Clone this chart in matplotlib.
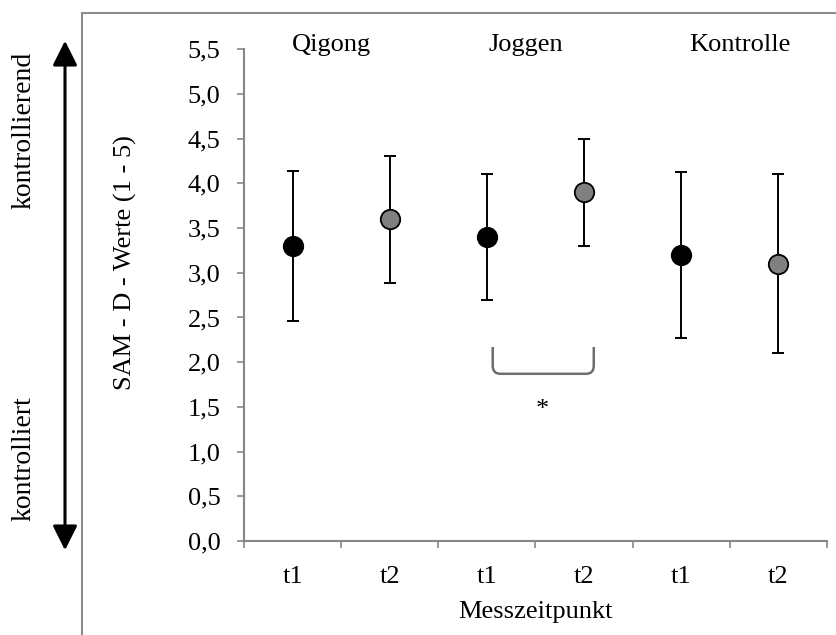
import matplotlib
matplotlib.use("Agg")
import matplotlib.pyplot as plt
from matplotlib.patches import Rectangle, PathPatch, FancyArrowPatch
from matplotlib.path import Path

groups = ["Qigong", "Joggen", "Kontrolle"]
time_labels = ["t1", "t2", "t1", "t2", "t1", "t2"]
means = [3.3, 3.6, 3.4, 3.9, 3.2, 3.1]
sds = [0.84, 0.71, 0.70, 0.60, 0.93, 1.0]
fills = ["black", "#808080", "black", "#808080", "black", "#808080"]
yticks = [0.0, 0.5, 1.0, 1.5, 2.0, 2.5, 3.0, 3.5, 4.0, 4.5, 5.0, 5.5]

plt.rcParams["font.family"] = ["Liberation Serif", "DejaVu Serif"]
FS = 19
AXIS_GREY = "#868686"

fig = plt.figure(figsize=(8.37, 6.35), dpi=100)
ax = fig.add_axes([0.2915, 0.148, 0.6965, 0.7745])

# outer frame, cut off at right and bottom
fig.patches.append(Rectangle((82 / 837, -0.05), 1.0, 1 - 13 / 635 + 0.05,
                             transform=fig.transFigure, fill=False,
                             edgecolor="#8c8c8c", lw=1.5))

for i, (m, s, c) in enumerate(zip(means, sds, fills)):
    ax.errorbar(i, m, yerr=s, fmt="none", ecolor="black", elinewidth=1.4,
                capsize=4.5, capthick=1.4, zorder=2)
    ax.plot(i, m, "o", ms=14, mfc=c, mec="black", mew=1.3, zorder=3)

ax.set_xlim(-0.5, 5.5)
ax.set_ylim(0, 5.5)
ax.set_yticks(yticks, [f"{v:.1f}".replace(".", ",") for v in yticks], fontsize=FS)
ax.set_xticks([-0.5, 0.5, 1.5, 2.5, 3.5, 4.5, 5.5], [])
ax.set_xticks(range(6), time_labels, minor=True, fontsize=FS)
ax.tick_params(axis="x", which="major", length=5, width=1.2, color=AXIS_GREY, direction="out")
ax.tick_params(axis="x", which="minor", length=0, pad=18)
ax.tick_params(axis="y", length=5, width=1.2, color=AXIS_GREY, pad=12)
for side in ("top", "right"):
    ax.spines[side].set_visible(False)
for side in ("left", "bottom"):
    ax.spines[side].set_color(AXIS_GREY)
    ax.spines[side].set_linewidth(1.5)

ax.set_ylabel("SAM - D - Werte (1 - 5)", fontsize=FS, ha="center", va="center")
ax.yaxis.set_label_coords(-0.204, 0.567)
ax.set_xlabel("Messzeitpunkt", fontsize=FS, va="center")
ax.xaxis.set_label_coords(0.5, -0.144)

# group names over the pairs
for x, g in zip([0.4, 2.4, 4.6], groups):
    ax.text(x, 5.55, g, ha="center", va="center", fontsize=FS)

# significance bracket between Joggen t1 and t2
x0, x1, ytop, ybot, rx, ry = 2.06, 3.1, 2.17, 1.87, 0.08, 0.09
verts = [(x0, ytop), (x0, ybot + ry), (x0, ybot), (x0 + rx, ybot),
         (x1 - rx, ybot), (x1, ybot), (x1, ybot + ry), (x1, ytop)]
codes = [Path.MOVETO, Path.LINETO, Path.CURVE3, Path.CURVE3,
         Path.LINETO, Path.CURVE3, Path.CURVE3, Path.LINETO]
ax.add_patch(PathPatch(Path(verts, codes), fill=False, edgecolor="#6e6e6e", lw=1.8))
ax.text(2.57, 1.47, "*", ha="center", va="center", fontsize=FS)

# direction arrow on the far left
fig.add_artist(FancyArrowPatch(
    (65 / 837, 1 - 553 / 635), (65 / 837, 1 - 38 / 635), transform=fig.transFigure,
    arrowstyle="<|-|>,head_length=10,head_width=5", color="black", lw=2.2,
    mutation_scale=1.5))
fig.text(24 / 837, 1 - 130 / 635, "kontrollierend", rotation=90, ha="center",
         va="center", fontsize=20)
fig.text(24 / 837, 1 - 459 / 635, "kontrolliert", rotation=90, ha="center",
         va="center", fontsize=20)

fig.savefig("out.png", dpi=100)
